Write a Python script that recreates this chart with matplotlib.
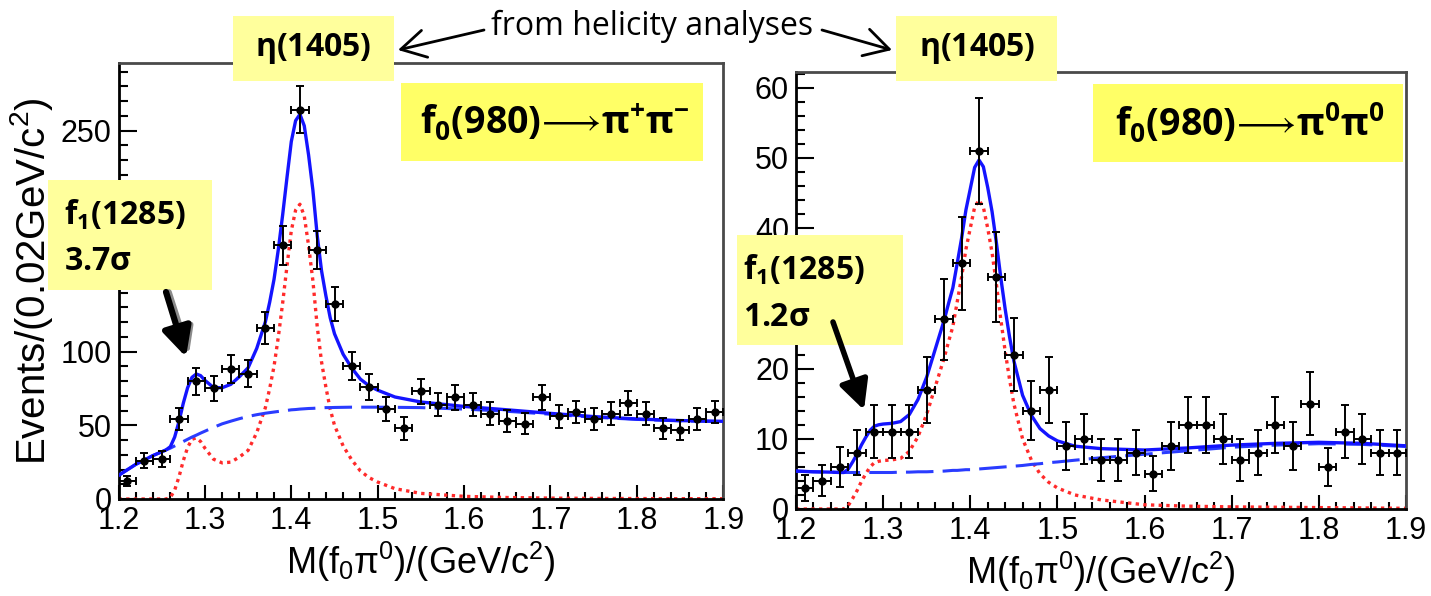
import numpy as np
import matplotlib
matplotlib.use("Agg")
import matplotlib.pyplot as plt
from matplotlib.patches import Rectangle, FancyArrowPatch

# bin centres of M(f0 pi0), 0.02 GeV bins
bin_centres = [1.21, 1.23, 1.25, 1.27, 1.29, 1.31, 1.33, 1.35, 1.37, 1.39,
               1.41, 1.43, 1.45, 1.47, 1.49, 1.51, 1.53, 1.55, 1.57, 1.59,
               1.61, 1.63, 1.65, 1.67, 1.69, 1.71, 1.73, 1.75, 1.77, 1.79,
               1.81, 1.83, 1.85, 1.87, 1.89]

# f0 -> pi+ pi- (left panel)
counts_pm = [12, 26, 27, 54, 80, 75, 88, 85, 116, 172,
             264, 169, 132, 90, 76, 61, 48, 73, 64, 69,
             64, 58, 53, 51, 69, 56, 59, 54, 58, 65,
             58, 48, 47, 54, 59]
errors_pm = [3.5, 5.2, 5.3, 7.5, 9.2, 8.7, 9.4, 9.3, 10.8, 13.5,
             16.0, 13.0, 11.5, 9.5, 8.8, 7.9, 7.9, 8.6, 8.0, 8.4,
             8.0, 7.7, 7.4, 7.2, 8.3, 7.5, 7.7, 7.4, 7.6, 8.1,
             7.6, 7.0, 6.9, 7.4, 7.7]

# f0 -> pi0 pi0 (right panel)
counts_00 = [3, 4, 6, 8, 11, 11, 11, 17, 27, 35,
             51, 33, 22, 14, 17, 9, 10, 7, 7, 8,
             5, 9, 12, 12, 10, 7, 8, 12, 9, 15,
             6, 11, 10, 8, 8]
errors_00 = [1.8, 2.2, 2.8, 3.2, 3.8, 3.8, 3.8, 4.7, 5.8, 6.6,
             7.6, 6.4, 5.2, 4.2, 4.7, 3.4, 3.6, 3.0, 3.0, 3.2,
             2.5, 3.4, 4.0, 4.0, 3.6, 3.0, 3.2, 4.0, 3.4, 4.5,
             2.7, 3.8, 3.6, 3.2, 3.2]

# fit curves (signal = red dotted, background = blue dashed)
curve_mass = [1.20, 1.22, 1.24, 1.25, 1.255, 1.26, 1.265, 1.27, 1.275, 1.28,
              1.285, 1.29, 1.295, 1.30, 1.31, 1.32, 1.33, 1.34, 1.35, 1.36,
              1.37, 1.375, 1.38, 1.385, 1.39, 1.395, 1.40, 1.405, 1.41, 1.415,
              1.42, 1.425, 1.43, 1.435, 1.44, 1.445, 1.45, 1.46, 1.47, 1.48,
              1.49, 1.50, 1.52, 1.55, 1.60, 1.65, 1.70, 1.75, 1.80, 1.85, 1.90]

signal_pm = [0, 0, 0, 0, 0, 1, 6, 15, 26, 35,
             40.5, 41.5, 39, 34.5, 27, 24.5, 25, 28.5, 33, 45,
             62, 75, 90, 110, 133, 158, 182, 196, 200, 192,
             172, 148, 117, 93, 76, 61, 50, 36, 26.5, 19,
             14.5, 11.5, 7, 3.8, 1.8, 1.0, 0.6, 0.4, 0.3, 0.2, 0.2]
backgr_pm = [16, 23.5, 29.5, 32, 33.3, 34.5, 36, 37.5, 39, 40.5,
             42, 43.3, 44.7, 46, 48.6, 51, 52.8, 54.5, 56, 57.2,
             58.2, 58.6, 59, 59.4, 59.8, 60.1, 60.5, 60.7, 61, 61.2,
             61.4, 61.5, 61.7, 61.8, 62, 62, 62.1, 62.2, 62.3, 62.3,
             62.3, 62.3, 62.2, 62, 61, 59.5, 57.5, 55.5, 54, 53, 52.5]

signal_00 = [0, 0, 0, 0, 0, 0.5, 1.5, 2.6, 3.9, 5.0,
             6.0, 6.6, 6.8, 6.9, 7.0, 7.2, 8.2, 10.3, 13.5, 17.5,
             21.5, 23.8, 26, 29.5, 33, 37, 40, 43, 44, 43,
             40, 36.5, 32, 27, 22.5, 18.5, 15, 10, 7, 5,
             3.8, 3.0, 2.0, 1.3, 0.6, 0.4, 0.3, 0.25, 0.2, 0.15, 0.1]
backgr_00 = [5.4, 5.3, 5.25, 5.2, 5.2, 5.2, 5.2, 5.2, 5.2, 5.2,
             5.2, 5.2, 5.2, 5.2, 5.2, 5.25, 5.25, 5.3, 5.3, 5.35,
             5.4, 5.45, 5.5, 5.5, 5.55, 5.6, 5.6, 5.65, 5.7, 5.75,
             5.8, 5.85, 5.9, 5.95, 6.0, 6.05, 6.1, 6.2, 6.35, 6.45,
             6.6, 6.7, 6.95, 7.3, 7.8, 8.3, 8.8, 9.1, 9.3, 9.2, 8.9]

x_ticks = [1.2, 1.3, 1.4, 1.5, 1.6, 1.7, 1.8, 1.9]
x_ticklabels = ["1.2", "1.3", "1.4", "1.5", "1.6", "1.7", "1.8", "1.9"]
# labels hidden behind the yellow boxes are left blank
y_ticks_pm = [0, 50, 100, 150, 200, 250]
y_ticklabels_pm = ["0", "50", "100", "", "", "250"]
y_ticks_00 = [0, 10, 20, 30, 40, 50, 60]
y_ticklabels_00 = ["0", "10", "20", "", "40", "50", "60"]

W, H = 1431, 596

plt.rcParams["font.family"] = ["Liberation Sans", "DejaVu Sans"]
plt.rcParams["mathtext.fontset"] = "custom"
plt.rcParams["mathtext.rm"] = "Liberation Sans"
plt.rcParams["mathtext.bf"] = "Open Sans:bold"
plt.rcParams["mathtext.it"] = "Liberation Sans:italic"
plt.rcParams["mathtext.fallback"] = "stixsans"


def fx(x):
    return x / W


def fy(y):
    return 1 - y / H


def draw_panel(ax, counts, errs, sig, bkg, ymax, yticks, yticklabels, yminor):
    total = np.array(sig) + np.array(bkg)
    ax.plot(curve_mass, sig, color="#ff2a2a", ls=(0, (1, 1.3)), lw=2.4, zorder=2)
    ax.plot(curve_mass, bkg, color="#2a3cff", ls=(0, (9, 3)), lw=2.2, zorder=3)
    ax.plot(curve_mass, total, color="#1414ff", lw=2.4, zorder=4)
    ax.errorbar(bin_centres, counts, xerr=0.01, yerr=errs, fmt="o", ms=5,
                color="black", ecolor="black", elinewidth=1.4, capsize=3,
                capthick=1.4, zorder=5)
    ax.set_xlim(1.2, 1.9)
    ax.set_ylim(0, ymax)
    ax.set_xticks(x_ticks)
    ax.set_xticklabels(x_ticklabels)
    ax.set_xticks(np.arange(1.2, 1.9001, 0.02), minor=True)
    ax.set_yticks(yticks)
    ax.set_yticklabels(yticklabels)
    ax.set_yticks(np.arange(0, ymax, yminor), minor=True)
    ax.tick_params(which="both", direction="in", top=False, right=False,
                   width=1.5, labelsize=22, pad=5)
    ax.tick_params(axis="y", which="major", length=13)
    ax.tick_params(axis="y", which="minor", length=6.5)
    ax.tick_params(axis="x", which="major", length=10)
    ax.tick_params(axis="x", which="minor", length=5)
    for side in ["left", "bottom"]:
        ax.spines[side].set_linewidth(2)
        ax.spines[side].set_color("black")
    for side in ["top", "right"]:
        ax.spines[side].set_linewidth(2)
        ax.spines[side].set_color("#4a4a4a")
    ax.set_xlabel(r"$\mathrm{M(f_{0}\pi^{0})/(GeV/c^{2})}$", fontsize=26, labelpad=3)


fig = plt.figure(figsize=(W / 100, H / 100), dpi=100)
ax1 = fig.add_axes([fx(118.5), fy(499), (723.3 - 118.5) / W, (499 - 62.7) / H])
ax2 = fig.add_axes([fx(796), fy(509), (1406 - 796) / W, (509 - 72.3) / H])

draw_panel(ax1, counts_pm, errors_pm, signal_pm, backgr_pm, 296,
           y_ticks_pm, y_ticklabels_pm, 10)
draw_panel(ax2, counts_00, errors_00, signal_00, backgr_00, 62.2,
           y_ticks_00, y_ticklabels_00, 2)
ax1.set_ylabel(r"$\mathrm{Events/(0.02GeV/c^{2})}$", fontsize=29, labelpad=4)


def box(x0, y0, x1, y1, color):
    fig.add_artist(Rectangle((fx(x0), fy(y1)), (x1 - x0) / W, (y1 - y0) / H,
                             transform=fig.transFigure, facecolor=color,
                             edgecolor="none", zorder=10))


pale = "#ffff9c"
bright = "#ffff66"
box(233, 16, 394, 81, pale)
box(896, 16, 1057, 81, pale)
box(401, 83, 703, 161, bright)
box(1093, 84, 1403, 162, bright)
box(48, 180, 212, 290, pale)
box(737, 235, 903, 345, pale)

txt = dict(transform=fig.transFigure, zorder=11, color="black")
fig.text(fx(313), fy(49), r"$\mathbf{\eta(1405)}$", fontsize=23, ha="center", va="center", **txt)
fig.text(fx(977), fy(49), r"$\mathbf{\eta(1405)}$", fontsize=23, ha="center", va="center", **txt)
fig.text(fx(555), fy(122), r"$\mathbf{f_{0}(980)}\!\longrightarrow\!\mathbf{\pi^{+}\pi^{-}}$", fontsize=27,
         ha="center", va="center", **txt)
fig.text(fx(1250), fy(123), r"$\mathbf{f_{0}(980)}\!\longrightarrow\!\mathbf{\pi^{0}\pi^{0}}$", fontsize=27,
         ha="center", va="center", **txt)
fig.text(fx(64), fy(215), r"$\mathbf{f_{1}(1285)}$", fontsize=23, ha="left", va="center", **txt)
fig.text(fx(64), fy(262), r"$\mathbf{3.7\sigma}$", fontsize=23, ha="left", va="center", **txt)
fig.text(fx(743), fy(270), r"$\mathbf{f_{1}(1285)}$", fontsize=23, ha="left", va="center", **txt)
fig.text(fx(743), fy(318), r"$\mathbf{1.2\sigma}$", fontsize=23, ha="left", va="center", **txt)
fig.text(fx(652), fy(26), "from helicity analyses", fontsize=23, family=["Open Sans", "DejaVu Sans"],
         ha="center", va="center", **txt)


def arrow(p0, p1, color="black", lw=2.0, style="->", scale=20):
    fig.add_artist(FancyArrowPatch((fx(p0[0]), fy(p0[1])), (fx(p1[0]), fy(p1[1])),
                                   transform=fig.transFigure, arrowstyle=style,
                                   mutation_scale=scale, color=color, lw=lw,
                                   shrinkA=0, shrinkB=0, zorder=12))


arrow((484, 30), (398, 50), style="->,head_length=0.8,head_width=0.45", scale=22)
arrow((822, 30), (892, 50), style="->,head_length=0.8,head_width=0.45", scale=22)
arrow((169, 292), (189, 354), color="#8a8a8a", lw=4, style="-|>,head_length=0.7,head_width=0.35", scale=22)
arrow((166, 292), (186, 357), lw=4.5, style="-|>,head_length=0.8,head_width=0.4", scale=22)
arrow((833, 322), (864, 410), lw=4, style="-|>,head_length=0.8,head_width=0.4", scale=22)

fig.savefig("out.png", dpi=100)
